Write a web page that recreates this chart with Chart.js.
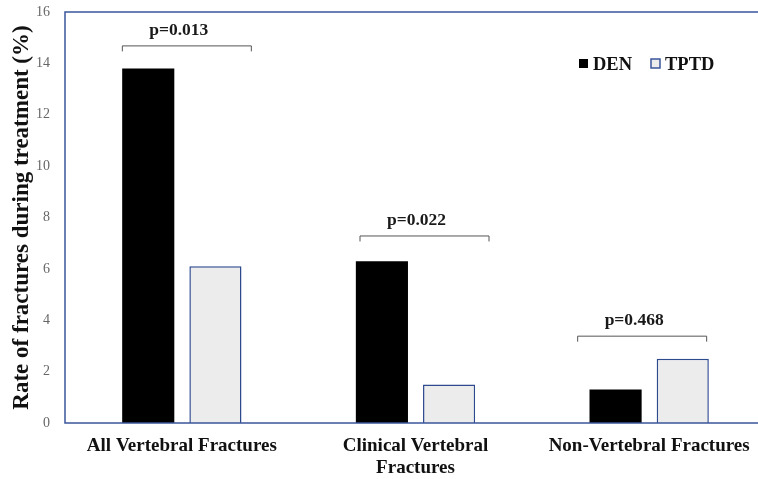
<!DOCTYPE html>
<html lang="en">
<head>
  <meta charset="UTF-8">
  <title>Fracture rates</title>
  <style>
    html, body { margin: 0; padding: 0; background: #fff; overflow: hidden; }
    #wrap { width: 766px; height: 479px; position: relative; }
  </style>
</head>
<body>
  <script src="https://cdn.jsdelivr.net/npm/chart.js"></script>
  <div id="wrap"><canvas id="myChart"></canvas></div>

<script>
  const categories = ['All Vertebral Fractures', ['Clinical Vertebral', 'Fractures'], 'Non-Vertebral Fractures'];
  const denValues = [13.8, 6.3, 1.3];
  const tptdValues = [6.1, 1.5, 2.5];
  const pValues = ['p=0.013', 'p=0.022', 'p=0.468'];
  const bracketLevels = [14.7, 7.3, 3.4];
  const yTicks = [0, 2, 4, 6, 8, 10, 12, 14, 16];

  const serif = '"Liberation Serif", "Times New Roman", serif';
  const frameColor = '#3a559a';

  // p-value brackets, frame and legend
  const extras = {
    id: 'extras',
    afterDatasetsDraw(chart) {
      const ctx = chart.ctx;
      const area = chart.chartArea;
      const x = chart.scales.x;
      const y = chart.scales.y;
      const shift = [5, 9, -7];
      ctx.save();

      // frame
      ctx.strokeStyle = frameColor;
      ctx.lineWidth = 1.5;
      ctx.strokeRect(area.left, area.top, area.right - area.left, area.bottom - area.top);

      // brackets
      pValues.forEach((p, i) => {
        const cx = x.getPixelForValue(i) + shift[i];
        const by = y.getPixelForValue(bracketLevels[i]);
        ctx.strokeStyle = '#555';
        ctx.lineWidth = 1;
        ctx.beginPath();
        ctx.moveTo(cx - 64.5, by + 6);
        ctx.lineTo(cx - 64.5, by + 0.5);
        ctx.lineTo(cx + 64.5, by + 0.5);
        ctx.lineTo(cx + 64.5, by + 6);
        ctx.stroke();
        ctx.fillStyle = '#1a1a1a';
        ctx.font = 'bold 17.5px ' + serif;
        ctx.textAlign = 'center';
        ctx.textBaseline = 'middle';
        ctx.fillText(p, cx - 8, by - 15);
      });

      // legend
      const ly = 64;
      ctx.fillStyle = '#000';
      ctx.fillRect(579, ly - 5, 9, 9);
      ctx.fillStyle = '#ececec';
      ctx.fillRect(651, ly - 5, 9, 9);
      ctx.strokeStyle = frameColor;
      ctx.lineWidth = 1.5;
      ctx.strokeRect(651, ly - 5, 9, 9);
      ctx.fillStyle = '#111';
      ctx.font = 'bold 18.5px ' + serif;
      ctx.textAlign = 'left';
      ctx.textBaseline = 'middle';
      ctx.fillText('DEN', 593, ly + 1);
      ctx.fillText('TPTD', 665, ly + 1);
      ctx.restore();
    }
  };

  const config = {
    type: 'bar',
    data: {
      labels: categories,
      datasets: [{
        label: 'DEN',
        data: denValues,
        backgroundColor: '#000',
        borderColor: '#000',
        borderWidth: 0,
        categoryPercentage: 0.575,
        barPercentage: 0.776
      }, {
        label: 'TPTD',
        data: tptdValues,
        backgroundColor: '#ececec',
        borderColor: '#2e4a8f',
        borderWidth: 1.5,
        categoryPercentage: 0.575,
        barPercentage: 0.776
      }]
    },
    options: {
      responsive: true,
      maintainAspectRatio: false,
      animation: false,
      layout: { padding: { top: 12, left: 0, right: 0, bottom: 0 } },
      plugins: {
        legend: { display: false },
        tooltip: { enabled: false }
      },
      scales: {
        x: {
          grid: { display: false, drawTicks: false },
          border: { display: false },
          ticks: {
            color: '#111',
            padding: 12,
            maxRotation: 0,
            autoSkip: false,
            font: { family: serif, size: 19, weight: 'bold', lineHeight: 1.15 }
          },
          afterFit(scale) { scale.height = 56; }
        },
        y: {
          min: 0,
          max: 16,
          grid: { display: false, drawTicks: false },
          border: { display: false },
          afterBuildTicks(scale) { scale.ticks = yTicks.map(v => ({ value: v })); },
          ticks: {
            color: '#666',
            padding: 15,
            font: { family: serif, size: 14 }
          },
          title: {
            display: true,
            text: 'Rate of fractures during treatment (%)',
            color: '#111',
            padding: { top: 8, bottom: 0 },
            font: { family: serif, size: 23, weight: 'bold' }
          },
          afterFit(scale) {
            scale.width = 65;
            scale.paddingTop = 0;
            scale.paddingBottom = 0;
          }
        }
      }
    },
    plugins: [extras]
  };

  new Chart(document.getElementById('myChart'), config);
</script>
</body>
</html>
